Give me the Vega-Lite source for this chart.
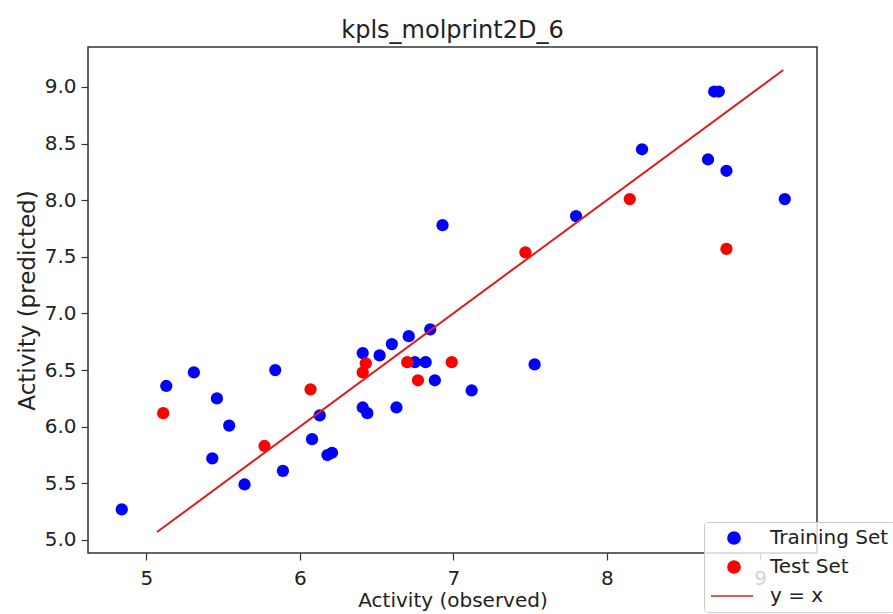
{
  "$schema": "https://vega.github.io/schema/vega-lite/v6.json",
  "width": 729,
  "height": 506,
  "autosize": "none",
  "padding": {"left": 88, "top": 47, "right": 76, "bottom": 61},
  "background": "white",
  "title": {"text": "kpls_molprint2D_6", "font": "DejaVu Sans", "fontSize": 24, "fontWeight": "normal", "color": "#222", "offset": 4},
  "config": {
    "view": {"stroke": "#333", "strokeWidth": 1.5},
    "font": "DejaVu Sans",
    "axis": {"grid": false, "domain": false, "tickColor": "#333", "tickSize": 7, "tickWidth": 1.2, "labelFont": "DejaVu Sans", "labelFontSize": 20, "labelColor": "#222", "titleFont": "DejaVu Sans", "titleFontSize": 20, "titleFontWeight": "normal", "titleColor": "#222"}
  },
  "layer": [
    {
      "data": {"values": [
        {"observed": 4.84, "predicted": 5.27, "set": "Training Set"},
        {"observed": 5.13, "predicted": 6.36, "set": "Training Set"},
        {"observed": 5.31, "predicted": 6.48, "set": "Training Set"},
        {"observed": 5.46, "predicted": 6.25, "set": "Training Set"},
        {"observed": 5.54, "predicted": 6.01, "set": "Training Set"},
        {"observed": 5.43, "predicted": 5.72, "set": "Training Set"},
        {"observed": 5.64, "predicted": 5.49, "set": "Training Set"},
        {"observed": 5.84, "predicted": 6.50, "set": "Training Set"},
        {"observed": 5.89, "predicted": 5.61, "set": "Training Set"},
        {"observed": 6.08, "predicted": 5.89, "set": "Training Set"},
        {"observed": 6.13, "predicted": 6.10, "set": "Training Set"},
        {"observed": 6.18, "predicted": 5.75, "set": "Training Set"},
        {"observed": 6.21, "predicted": 5.77, "set": "Training Set"},
        {"observed": 6.41, "predicted": 6.65, "set": "Training Set"},
        {"observed": 6.41, "predicted": 6.17, "set": "Training Set"},
        {"observed": 6.44, "predicted": 6.12, "set": "Training Set"},
        {"observed": 6.52, "predicted": 6.63, "set": "Training Set"},
        {"observed": 6.60, "predicted": 6.73, "set": "Training Set"},
        {"observed": 6.63, "predicted": 6.17, "set": "Training Set"},
        {"observed": 6.71, "predicted": 6.80, "set": "Training Set"},
        {"observed": 6.75, "predicted": 6.57, "set": "Training Set"},
        {"observed": 6.82, "predicted": 6.57, "set": "Training Set"},
        {"observed": 6.85, "predicted": 6.86, "set": "Training Set"},
        {"observed": 6.88, "predicted": 6.41, "set": "Training Set"},
        {"observed": 6.93, "predicted": 7.78, "set": "Training Set"},
        {"observed": 7.12, "predicted": 6.32, "set": "Training Set"},
        {"observed": 7.53, "predicted": 6.55, "set": "Training Set"},
        {"observed": 7.80, "predicted": 7.86, "set": "Training Set"},
        {"observed": 8.23, "predicted": 8.45, "set": "Training Set"},
        {"observed": 8.66, "predicted": 8.36, "set": "Training Set"},
        {"observed": 8.70, "predicted": 8.96, "set": "Training Set"},
        {"observed": 8.73, "predicted": 8.96, "set": "Training Set"},
        {"observed": 8.78, "predicted": 8.26, "set": "Training Set"},
        {"observed": 9.16, "predicted": 8.01, "set": "Training Set"},
        {"observed": 5.11, "predicted": 6.12, "set": "Test Set"},
        {"observed": 5.77, "predicted": 5.83, "set": "Test Set"},
        {"observed": 6.07, "predicted": 6.33, "set": "Test Set"},
        {"observed": 6.41, "predicted": 6.48, "set": "Test Set"},
        {"observed": 6.43, "predicted": 6.56, "set": "Test Set"},
        {"observed": 6.70, "predicted": 6.57, "set": "Test Set"},
        {"observed": 6.77, "predicted": 6.41, "set": "Test Set"},
        {"observed": 6.99, "predicted": 6.57, "set": "Test Set"},
        {"observed": 7.47, "predicted": 7.54, "set": "Test Set"},
        {"observed": 8.15, "predicted": 8.01, "set": "Test Set"},
        {"observed": 8.78, "predicted": 7.57, "set": "Test Set"}
      ]},
      "mark": {"type": "point", "filled": true, "size": 150, "opacity": 1},
      "encoding": {
        "x": {"field": "observed", "type": "quantitative", "title": "Activity (observed)",
              "scale": {"domain": [4.62, 9.37], "nice": false, "zero": false},
              "axis": {"values": [5, 6, 7, 8, 9], "format": "d", "labelPadding": 8, "titlePadding": 2}},
        "y": {"field": "predicted", "type": "quantitative", "title": "Activity (predicted)",
              "scale": {"domain": [4.885, 9.353], "nice": false, "zero": false},
              "axis": {"values": [5, 5.5, 6, 6.5, 7, 7.5, 8, 8.5, 9], "format": ".1f", "labelPadding": 5, "titlePadding": 5, "titleFontSize": 23}},
        "color": {"field": "set", "type": "nominal", "title": null,
                  "scale": {"domain": ["Training Set", "Test Set", "y = x"], "range": ["#0000ff", "#ff0000", "#dd1c1c"]},
                  "legend": {"orient": "none", "legendX": 616, "legendY": 475, "fillColor": "rgba(255,255,255,0.8)", "strokeColor": "#cccccc", "cornerRadius": 3, "padding": 6,
                             "labelFont": "DejaVu Sans", "labelFontSize": 20, "labelColor": "#222", "symbolSize": 150, "symbolOffset": 14, "labelOffset": 26, "rowPadding": 9,
                             "encode": {"symbols": {"update": {"stroke": {"scale": "color", "field": "value"}, "strokeWidth": {"value": 2}}}}}},
        "shape": {"field": "set", "type": "nominal", "title": null,
                  "scale": {"domain": ["Training Set", "Test Set", "y = x"], "range": ["circle", "circle", "M-3.75,0H3.1"]}}
      }
    },
    {
      "data": {"values": [
        {"observed": 5.07, "predicted": 5.07, "set": "y = x"},
        {"observed": 9.15, "predicted": 9.15, "set": "y = x"}
      ]},
      "mark": {"type": "line", "strokeWidth": 2},
      "encoding": {
        "x": {"field": "observed", "type": "quantitative"},
        "y": {"field": "predicted", "type": "quantitative"},
        "color": {"field": "set", "type": "nominal"}
      }
    }
  ]
}
